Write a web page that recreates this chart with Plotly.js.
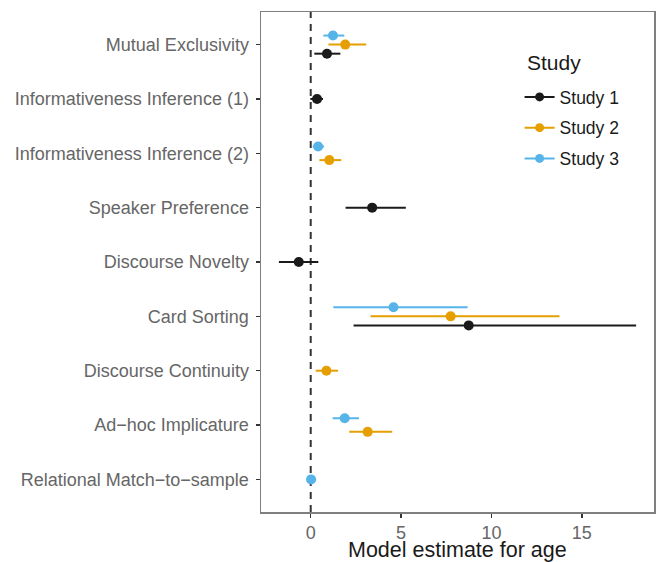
<!DOCTYPE html>
<html>
<head>
<meta charset="utf-8">
<script src="https://cdn.plot.ly/plotly-3.0.1.min.js"></script>
<style>html,body{margin:0;padding:0;background:#fff;}#chart{width:657px;height:562px;}</style>
</head>
<body>
<div id="chart"></div>
<script>
// Categories, top to bottom
const categories = [
  "Mutual Exclusivity",
  "Informativeness Inference (1)",
  "Informativeness Inference (2)",
  "Speaker Preference",
  "Discourse Novelty",
  "Card Sorting",
  "Discourse Continuity",
  "Ad\u2212hoc Implicature",
  "Relational Match\u2212to\u2212sample"
];
const studyNames = ["Study 1", "Study 2", "Study 3"];
const studyColors = ["#1a1a1a", "#E69F00", "#56B4E9"];
const legendTitle = "Study";
const xTitle = "Model estimate for age";

// Study 1
const s1Cats  = ["Mutual Exclusivity", "Informativeness Inference (1)", "Speaker Preference", "Discourse Novelty", "Card Sorting"];
const s1Est   = [0.90, 0.35, 3.40, -0.66, 8.74];
const s1Lower = [0.20, -0.02, 1.93, -1.76, 2.37];
const s1Upper = [1.64, 0.68, 5.26, 0.42, 18.00];

// Study 2
const s2Cats  = ["Mutual Exclusivity", "Informativeness Inference (2)", "Card Sorting", "Discourse Continuity", "Ad\u2212hoc Implicature"];
const s2Est   = [1.91, 1.03, 7.74, 0.87, 3.15];
const s2Lower = [0.98, 0.48, 3.31, 0.28, 2.13];
const s2Upper = [3.07, 1.69, 13.76, 1.51, 4.51];

// Study 3
const s3Cats  = ["Mutual Exclusivity", "Informativeness Inference (2)", "Card Sorting", "Ad\u2212hoc Implicature", "Relational Match\u2212to\u2212sample"];
const s3Est   = [1.23, 0.41, 4.58, 1.88, 0.02];
const s3Lower = [0.70, 0.11, 1.25, 1.21, -0.22];
const s3Upper = [1.86, 0.74, 8.68, 2.67, 0.30];

const xTicks = [0, 5, 10, 15];

const studies = [
  {cats: s1Cats, est: s1Est, lo: s1Lower, hi: s1Upper},
  {cats: s2Cats, est: s2Est, lo: s2Lower, hi: s2Upper},
  {cats: s3Cats, est: s3Est, lo: s3Lower, hi: s3Upper}
];

// category positions (top = highest)
const nCat = categories.length;
const catPos = {};
categories.forEach((c, i) => { catPos[c] = nCat - i; });

// dodge (ggplot-like, width 0.5)
const dodgeW = 0.5;
function dodgeOffset(cat, studyIdx) {
  const present = [];
  studies.forEach((s, k) => { if (s.cats.indexOf(cat) >= 0) present.push(k); });
  const n = present.length;
  const k = present.indexOf(studyIdx);
  return -dodgeW / 2 + dodgeW / (2 * n) + k * dodgeW / n;
}

const font = "Liberation Sans, Arial, Helvetica, sans-serif";
const traces = [];
studies.forEach((s, k) => {
  traces.push({
    type: "scatter",
    mode: "markers",
    x: s.est,
    y: s.cats.map(c => catPos[c] + dodgeOffset(c, k)),
    error_x: {
      type: "data", symmetric: false,
      array: s.hi.map((h, i) => h - s.est[i]),
      arrayminus: s.est.map((e, i) => e - s.lo[i]),
      color: studyColors[k], thickness: 2, width: 0
    },
    marker: {color: studyColors[k], size: 10},
    showlegend: false,
    hoverinfo: "x+y"
  });
});
// legend entries
studies.forEach((s, k) => {
  traces.push({
    type: "scatter", mode: "lines+markers",
    x: [null], y: [null],
    name: studyNames[k],
    legendgroup: "g" + k,
    line: {color: studyColors[k], width: 2},
    marker: {color: studyColors[k], size: 9}
  });
});

const layout = {
  width: 657, height: 562,
  margin: {l: 261, r: 3, t: 12, b: 50},
  paper_bgcolor: "#fff", plot_bgcolor: "#fff",
  font: {family: font, color: "#666", size: 18},
  showlegend: true,
  legend: {
    x: 0.658, y: 0.866, xanchor: "left", yanchor: "top",
    bgcolor: "rgba(0,0,0,0)",
    font: {family: font, size: 17.5, color: "#1a1a1a"},
    tracegroupgap: 5,
    itemwidth: 30
  },
  annotations: [{
    text: legendTitle, xref: "paper", yref: "paper",
    x: 0.672, y: 0.8998, xanchor: "left", yanchor: "middle",
    showarrow: false,
    font: {family: font, size: 21, color: "#1a1a1a"}
  }, {
    text: xTitle, xref: "paper", yref: "paper",
    x: 0.5, y: 0, yshift: -25, xanchor: "center", yanchor: "top",
    showarrow: false, borderpad: 0,
    font: {family: font, size: 21.5, color: "#1a1a1a"}
  }],
  xaxis: {
    range: [-2.75, 18.99],
    tickvals: xTicks,
    ticktext: xTicks.map(String),
    showgrid: false, zeroline: false,
    showline: true, mirror: true, linecolor: "#7f7f7f", linewidth: 1.5,
    ticks: "outside", ticklen: 4, tickwidth: 1.5, tickcolor: "#333",
    tickfont: {family: font, size: 18, color: "#666"}
  },
  yaxis: {
    range: [0.4, 9.6],
    tickvals: categories.map(c => catPos[c]),
    ticktext: categories,
    showgrid: false, zeroline: false,
    showline: true, mirror: true, linecolor: "#7f7f7f", linewidth: 1.5,
    ticks: "outside", ticklen: 4, tickwidth: 1.5, tickcolor: "#333",
    ticklabelstandoff: 3,
    tickfont: {family: font, size: 18, color: "#666"}
  },
  shapes: [{
    type: "line", xref: "x", yref: "paper",
    x0: 0, x1: 0, y0: 0, y1: 1,
    line: {color: "#333", width: 2, dash: "7px,6px"},
    layer: "below"
  }]
};

Plotly.newPlot("chart", traces, layout, {displayModeBar: false, staticPlot: true});
</script>
</body>
</html>
